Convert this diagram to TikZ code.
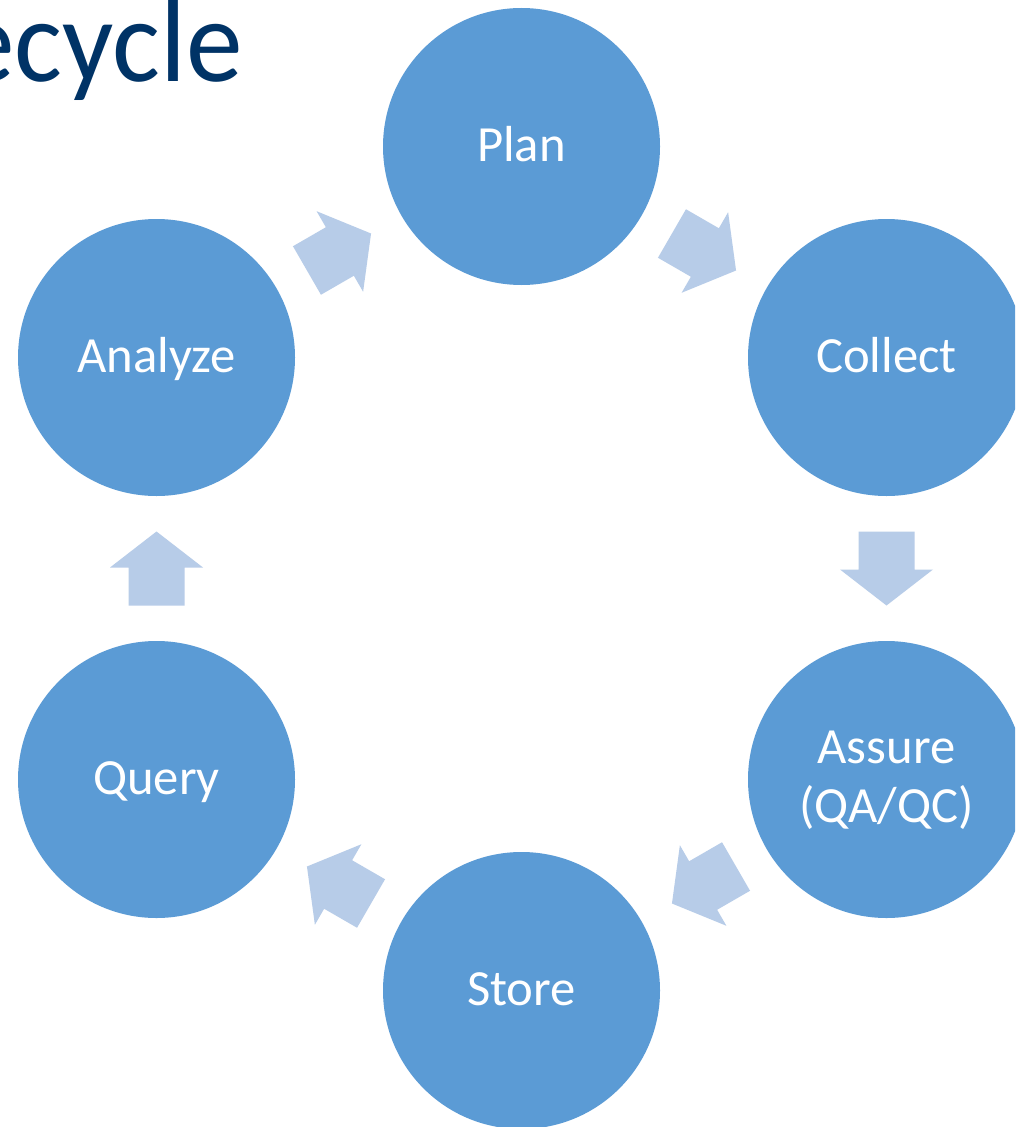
\documentclass[tikz,border=0pt]{standalone}
\usepackage{fontspec}
\setmainfont{Carlito}
\usetikzlibrary{calc}
\definecolor{circ}{RGB}{91,155,213}
\definecolor{arrowc}{RGB}{183,204,232}
\definecolor{titlec}{RGB}{0,51,102}
\newcommand\cyclearrow[3]{%
  \begin{scope}[shift={($(#1)!0.5!(#2)$)}, rotate=#3]
    \fill[blockarrow] (-37,28) -- (1,28) -- (1,46.5) -- (37,0) -- (1,-46.5) -- (1,-28) -- (-37,-28) -- cycle;
  \end{scope}}
\begin{document}
\begin{tikzpicture}[x=0.75pt,y=0.75pt,
  stage/.style={circle, fill=circ, draw=none, minimum size=207.75pt, inner sep=0pt},
  lbl/.style={text=white, font=\fontsize{38}{44.25}\selectfont, inner sep=0pt},
  blockarrow/.style={fill=arrowc, draw=none}]
\useasboundingbox (0,0) rectangle (1015,-1127);
\clip (0,0) rectangle (1015,-1127);
\fill[white] (0,0) rectangle (1015,-1127);
% title
\node[anchor=base east, text=titlec, font=\fontsize{88.5}{100}\selectfont, inner sep=0pt] (title) at (243,-82) {\scalebox{0.96}[1]{ecycle}};
% stages
\node[stage] (plan) at (521.5,-146.5) {};
\node[stage] (collect) at (886.5,-357.5) {};
\node[stage] (assure) at (886.5,-779.5) {};
\node[stage] (store) at (521.5,-990.5) {};
\node[stage] (query) at (156.5,-779.5) {};
\node[stage] (analyze) at (156.5,-357.5) {};
% labels
\node[lbl, anchor=base] (plantext) at ([yshift=-11pt]plan.center) {Plan};
\node[lbl, anchor=base] (collecttext) at ([yshift=-11pt]collect.center) {Collect};
\node[lbl, anchor=north, align=center] (assuretext) at ([yshift=36.3pt]assure.center) {Assure\\(QA/QC)};
\node[lbl, anchor=base] (storetext) at ([yshift=-11pt]store.center) {Store};
\node[lbl, anchor=base] (querytext) at ([yshift=-11pt]query.center) {Query};
\node[lbl, anchor=base] (analyzetext) at ([yshift=-11pt]analyze.center) {Analyze};
% arrows
\cyclearrow{plan}{collect}{-30}
\cyclearrow{collect}{assure}{-90}
\cyclearrow{assure}{store}{-150}
\cyclearrow{store}{query}{150}
\cyclearrow{query}{analyze}{90}
\cyclearrow{analyze}{plan}{30}
\end{tikzpicture}
\end{document}
